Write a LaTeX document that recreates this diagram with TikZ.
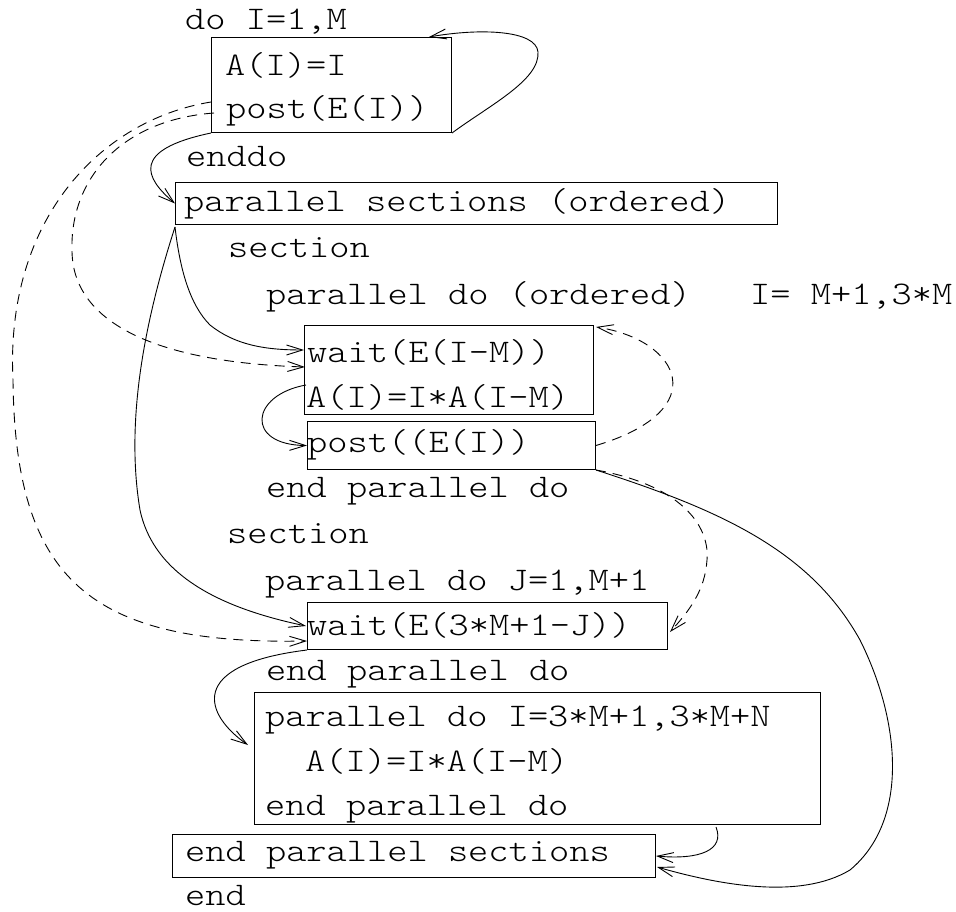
\documentclass[tikz,border=0pt]{standalone}
\usepackage{fontspec}
\newfontfamily\codefont[FakeStretch=1.167]{Latin Modern Mono Light}
\usetikzlibrary{arrows.meta,calc}
\begin{document}
\begin{tikzpicture}[x=1pt,y=-1pt,
  txt/.style={anchor=base west,inner sep=0pt,font=\codefont\fontsize{33}{36}\selectfont},
  box/.style={draw,line width=1pt,inner sep=0pt,anchor=north west},
  conn/.style={line width=0.9pt,->},
  dconn/.style={conn,dash pattern=on 10pt off 7pt},
  >={Straight Barb[length=16pt,width=10pt]}]
\useasboundingbox (0,0) rectangle (956,912);
% boxes
\node[box,minimum width=240pt,minimum height=95pt] (b1) at (211,37) {};
\node[box,minimum width=602pt,minimum height=42pt] (b2) at (175,182) {};
\node[box,minimum width=289pt,minimum height=89pt] (b3) at (304,325) {};
\node[box,minimum width=288pt,minimum height=48pt] (b4) at (307,421) {};
\node[box,minimum width=360pt,minimum height=47pt] (b5) at (307,602) {};
\node[box,minimum width=566pt,minimum height=132pt] (b6) at (254,692) {};
\node[box,minimum width=483pt,minimum height=43pt] (b7) at (172,834) {};
% texts
\node[txt] (t1) at (185,30) {do I=1,M};
\node[txt] (t2) at (225,76) {A(I)=I};
\node[txt] (t3) at (226,119) {post(E(I))};
\node[txt] (t4) at (186,167) {enddo};
\node[txt] (t5) at (184,212) {parallel sections (ordered)};
\node[txt] (t6) at (228,258) {section};
\node[txt] (t7) at (266,305) {parallel do (ordered)};
\node[txt] (t8) at (750,305) {I= M+1,3*M};
\node[txt] (t9) at (307,362) {wait(E(I-M))};
\node[txt] (t10) at (306,407) {A(I)=I*A(I-M)};
\node[txt] (t11) at (307,452) {post((E(I))};
\node[txt] (t12) at (266,497) {end parallel do};
\node[txt] (t13) at (227,543) {section};
\node[txt] (t14) at (265,590) {parallel do J=1,M+1};
\node[txt] (t15) at (307,635) {wait(E(3*M+1-J))};
\node[txt] (t16) at (266,680) {end parallel do};
\node[txt] (t17) at (265,726) {parallel do I=3*M+1,3*M+N};
\node[txt] (t18) at (305,771) {A(I)=I*A(I-M)};
\node[txt] (t19) at (265,815) {end parallel do};
\node[txt] (t20) at (185,861) {end parallel sections};
\node[txt] (t21) at (185,905) {end};
% solid connectors
\draw[conn] (b1.south east) .. controls (490,105) and (540,80) .. (538,52)
  .. controls (536,30) and (480,28) .. ($(b1.north east)+(-23,0)$);
\draw[conn] (b1.south west) .. controls (130,150) and (145,178) .. (b2.west);
\draw[conn] ($(b2.south west)+(0,2)$) .. controls (180,270) and (190,305) .. (210,325)
  .. controls (235,345) and (265,350) .. ($(b3.north west)+(0,25)$);
\draw[conn] ($(b2.south west)+(0,2)$) .. controls (145,320) and (125,420) .. (140,510)
  .. controls (155,580) and (230,610) .. ($(b5.north west)+(-1,24)$);
\draw[conn] ($(b3.north west)+(2,60)$) .. controls (250,395) and (245,445) .. (b4.west);
\draw[conn] (b4.south east) .. controls (720,510) and (810,550) .. (860,640)
  .. controls (900,720) and (910,820) .. (850,870)
  .. controls (800,900) and (720,885) .. ($(b7.east)+(1,11)$);
\draw[conn] (b5.south west) .. controls (185,665) and (205,715) .. ($(b6.north west)+(-6,53)$);
\draw[conn] ($(b6.south east)+(-105,2)$) .. controls (725,850) and (700,860) .. (b7.east);
% dashed connectors
\draw[dconn] (b4.east) .. controls (715,410) and (680,340) .. ($(b3.north east)+(2,2)$);
\draw[dconn] (b4.south east) .. controls (680,485) and (710,525) .. (707,560)
  .. controls (705,590) and (690,610) .. ($(b5.east)+(2,6)$);
\draw[dconn] ($(b1.north west)+(0,65)$) .. controls (100,120) and (5,220) .. (13,380)
  .. controls (15,580) and (90,645) .. ($(b5.north west)+(0,39)$);
\draw[dconn] ($(b1.north west)+(3,76)$) .. controls (120,120) and (70,180) .. (72,250)
  .. controls (72,320) and (150,362) .. ($(b3.north west)+(1,42)$);
\end{tikzpicture}
\end{document}
